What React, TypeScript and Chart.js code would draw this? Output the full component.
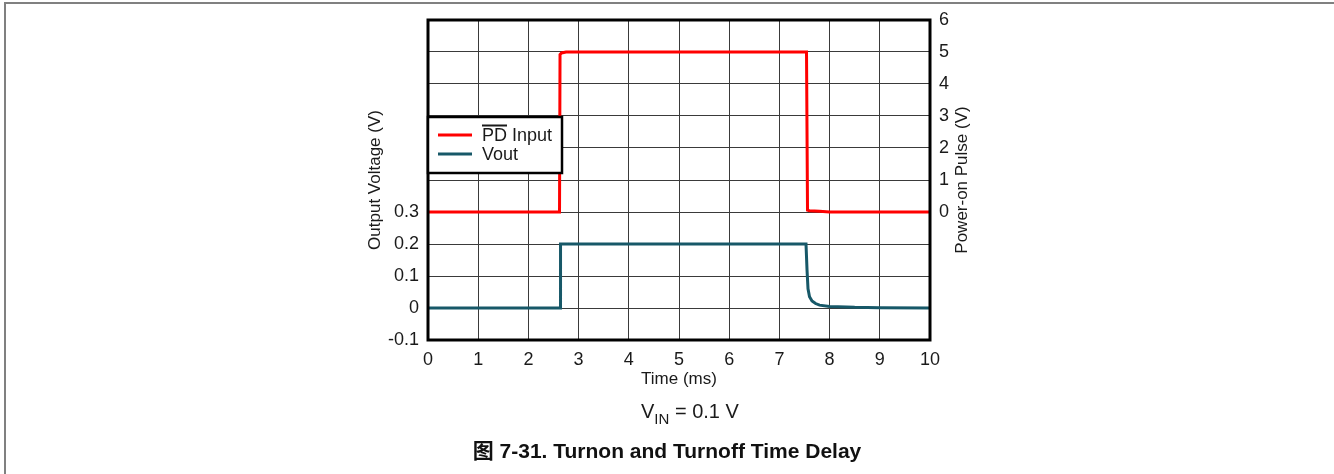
import React, { useEffect, useRef } from "react";
import { Chart, registerables } from "chart.js";

Chart.register(...registerables);

// Time axis (ms)
const timeTicks = [0, 1, 2, 3, 4, 5, 6, 7, 8, 9, 10];
// PD input (right axis, V)
const timePD = [0, 2.62, 2.63, 2.66, 2.75, 7.54, 7.56, 7.6, 7.8, 8.0, 10];
const pdInput = [0, 0, 4.92, 4.97, 5, 5, 0.06, 0.04, 0.02, 0, 0];
// Vout (left axis, V)
const timeVout = [0, 2.63, 2.64, 7.53, 7.55, 7.57, 7.6, 7.65, 7.72, 7.8, 8.0, 8.5, 9.0, 10];
const vout = [0, 0, 0.2, 0.2, 0.12, 0.06, 0.035, 0.022, 0.014, 0.009, 0.005, 0.002, 0.001, 0];

const leftLabels = ["-0.1", "0", "0.1", "0.2", "0.3"];
const rightLabels = ["0", "1", "2", "3", "4", "5", "6"];

const seriesNames = ["PD Input", "Vout"];
const seriesColors = ["#ff0000", "#175868"];
const rightTitle = "Power-on Pulse (V)";

const FONT = "'Liberation Sans', Arial, 'Noto Sans CJK SC', sans-serif";
const TEXT = "#1a1a1a";

export default function App() {
  const ref = useRef<HTMLCanvasElement | null>(null);

  useEffect(() => {
    if (!ref.current) return;
    const legendPlugin = {
      id: "customLegendBorder",
      afterDraw(chart: any) {
        const { ctx, chartArea } = chart;
        ctx.save();
        // frame
        ctx.strokeStyle = "#000";
        ctx.lineWidth = 3;
        ctx.strokeRect(chartArea.left, chartArea.top, chartArea.right - chartArea.left, chartArea.bottom - chartArea.top);
        // right axis title, reading bottom-to-top
        ctx.save();
        ctx.translate(chartArea.right + 32, (chartArea.top + chartArea.bottom) / 2);
        ctx.rotate(-Math.PI / 2);
        ctx.font = `17px ${FONT}`;
        ctx.fillStyle = TEXT;
        ctx.textAlign = "center";
        ctx.textBaseline = "middle";
        ctx.fillText(rightTitle, 0, 0);
        ctx.restore();
        // legend box
        const lx = chartArea.left;
        const ly = chartArea.top + 97;
        const lw = 134;
        const lh = 56;
        ctx.fillStyle = "#fff";
        ctx.fillRect(lx, ly, lw, lh);
        ctx.strokeStyle = "#000";
        ctx.lineWidth = 2.5;
        ctx.strokeRect(lx, ly, lw, lh);
        ctx.font = `18px ${FONT}`;
        ctx.textBaseline = "middle";
        ctx.textAlign = "left";
        const rows = [ly + 18, ly + 37];
        seriesNames.forEach((name, i) => {
          ctx.strokeStyle = seriesColors[i];
          ctx.lineWidth = 3;
          ctx.beginPath();
          ctx.moveTo(lx + 10, rows[i]);
          ctx.lineTo(lx + 44, rows[i]);
          ctx.stroke();
          ctx.fillStyle = TEXT;
          ctx.fillText(name, lx + 54, rows[i] + 1);
        });
        // overline on "PD"
        const pdW = ctx.measureText("PD").width;
        ctx.strokeStyle = TEXT;
        ctx.lineWidth = 2;
        ctx.beginPath();
        ctx.moveTo(lx + 54, rows[0] - 9.5);
        ctx.lineTo(lx + 54 + pdW, rows[0] - 9.5);
        ctx.stroke();
        ctx.restore();
      },
    };

    const chart = new Chart(ref.current, {
      type: "line",
      data: {
        datasets: [
          {
            label: seriesNames[0],
            data: timePD.map((t, i) => ({ x: t, y: pdInput[i] })),
            borderColor: seriesColors[0],
            borderWidth: 3,
            pointRadius: 0,
            tension: 0,
            yAxisID: "y2",
          },
          {
            label: seriesNames[1],
            data: timeVout.map((t, i) => ({ x: t, y: vout[i] })),
            borderColor: seriesColors[1],
            borderWidth: 3,
            pointRadius: 0,
            tension: 0,
            yAxisID: "y",
          },
        ],
      },
      options: {
        animation: false,
        responsive: false,
        maintainAspectRatio: false,
        layout: { padding: { left: 361, right: 360, top: 20, bottom: 80 } },
        plugins: { legend: { display: false }, tooltip: { enabled: false } },
        scales: {
          x: {
            type: "linear",
            min: 0,
            max: 10,
            afterBuildTicks: (s: any) => {
              s.ticks = timeTicks.map((v) => ({ value: v }));
            },
            afterFit: (s: any) => {
              s.height = 54;
            },
            grid: { color: "#3a3a3a", lineWidth: 1, drawTicks: false },
            border: { display: false },
            ticks: { color: TEXT, font: { size: 18, family: FONT }, padding: 9, maxRotation: 0 },
            title: { display: true, text: "Time (ms)", color: TEXT, font: { size: 17, family: FONT } },
          },
          y: {
            position: "left",
            min: -0.1,
            max: 0.9,
            afterBuildTicks: (s: any) => {
              const arr: any[] = [];
              for (let i = 0; i <= 10; i++) arr.push({ value: -0.1 + i * 0.1 });
              s.ticks = arr;
            },
            afterFit: (s: any) => {
              s.width = 67;
            },
            grid: { color: "#3a3a3a", lineWidth: 1, drawTicks: false },
            border: { display: false },
            ticks: {
              color: TEXT,
              font: { size: 18, family: FONT },
              padding: 9,
              callback: (_v: any, i: number) => (i < leftLabels.length ? leftLabels[i] : ""),
            },
            title: { display: true, text: "Output Voltage (V)", color: TEXT, font: { size: 17, family: FONT } },
          },
          y2: {
            position: "right",
            min: -4,
            max: 6,
            afterBuildTicks: (s: any) => {
              const arr: any[] = [];
              for (let i = -4; i <= 6; i++) arr.push({ value: i });
              s.ticks = arr;
            },
            afterFit: (s: any) => {
              s.width = 44;
            },
            grid: { display: false, drawTicks: false },
            border: { display: false },
            ticks: {
              color: TEXT,
              font: { size: 18, family: FONT },
              padding: 9,
              callback: (_v: any, i: number) => (i >= 4 ? rightLabels[i - 4] : ""),
            },
            title: { display: false },
          },
        },
      },
      plugins: [legendPlugin],
    });
    return () => chart.destroy();
  }, []);

  return (
    <div
      style={{
        position: "fixed",
        left: 0,
        top: 0,
        width: 1334,
        height: 474,
        background: "#fff",
        overflow: "hidden",
        fontFamily: FONT,
      }}
    >
      <div
        style={{
          position: "absolute",
          left: 4,
          top: 2,
          width: 1400,
          height: 500,
          borderTop: "2px solid #808080",
          borderLeft: "2px solid #808080",
        }}
      />
      <canvas ref={ref} width={1334} height={474} style={{ position: "absolute", left: 0, top: 0 }} />
      <div
        style={{
          position: "absolute",
          left: 641,
          top: 400,
          fontSize: 20,
          lineHeight: "23px",
          color: TEXT,
          whiteSpace: "nowrap",
        }}
      >
        V<sub style={{ fontSize: 15, verticalAlign: "-6px", lineHeight: 0 }}>IN</sub> = 0.1 V
      </div>
      <div
        style={{
          position: "absolute",
          left: 0,
          width: 1334,
          top: 439,
          textAlign: "center",
          fontSize: 21,
          lineHeight: "24px",
          fontWeight: "bold",
          color: "#111",
          whiteSpace: "nowrap",
        }}
      >
        图 7-31. Turnon and Turnoff Time Delay
      </div>
    </div>
  );
}
